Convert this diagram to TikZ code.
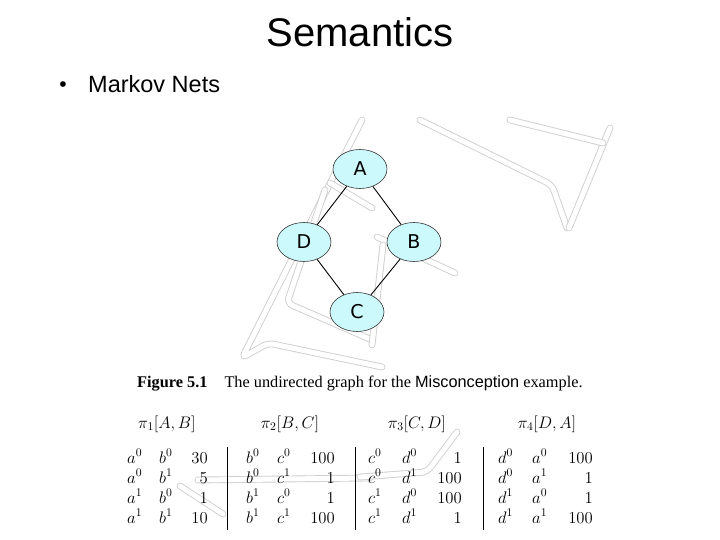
\RequirePackage{fix-cm}
\documentclass[tikz,border=0pt]{standalone}
\usepackage{fontspec}
\usetikzlibrary{shapes.geometric}
\newfontfamily\arialfont{Liberation Sans}
\newfontfamily\timesfont{Liberation Serif}
\newfontfamily\handfont{DejaVu Sans}
\definecolor{nodefill}{HTML}{CCFAFC}
\definecolor{wmgray}{HTML}{CFCFCF}
\newcommand\trow[8]{%
  \node[cell, anchor=base west] (#1a) at (#3,#2) {$#6$};
  \node[cell, anchor=base west] (#1b) at (#4,#2) {$#7$};
  \node[cell, anchor=base east] (#1c) at (#5,#2) {$#8$};}
\begin{document}
\begin{tikzpicture}[x=1pt,y=-1pt,
  wm/.style={draw=wmgray, line width=0.9pt, double=white, double distance=5pt, rounded corners=6pt, line cap=round},
  var/.style={ellipse, draw=black!80, line width=0.6pt, fill=nodefill, minimum width=54pt, minimum height=39pt, inner sep=0pt, font=\handfont\fontsize{19}{22}\selectfont},
  edge/.style={draw=black, line width=0.9pt},
  cell/.style={inner sep=0pt, font=\fontsize{16.7}{20}\selectfont},
  sep/.style={draw=black, line width=1pt}]
\useasboundingbox (0,0) rectangle (720,540);
\fill[white] (0,0) rectangle (720,540);
% watermark (faint background)
\draw[wm] (362,120) -- (242,358) -- (268,343) -- (382,367);
\draw[wm] (330,183) -- (372,208);
\draw[wm] (325,190) -- (287,303) -- (372,340);
\draw[wm] (420,120) -- (552,185) -- (567,228);
\draw[wm] (610,128) -- (569,228);
\draw[wm] (510,120) -- (603,143);
\draw[wm] (377,237) -- (455,273);
\draw[wm] (383,245) -- (372,345);
\draw[wm] (180,486) -- (223,514);
\draw[wm] (198,480) -- (370,478);
\draw[wm] (360,477) -- (427,472) -- (457,432);
% title
\node[font=\arialfont\fontsize{40}{48}\selectfont, anchor=base, inner sep=0pt] (title) at (360,47) {Semantics};
\node[font=\arialfont\fontsize{21}{24}\selectfont, anchor=base, inner sep=0pt] (bullet) at (63,92) {•};
\node[font=\arialfont\fontsize{23.5}{28}\selectfont, anchor=base west, inner sep=0pt] (item) at (88,93) {Markov Nets};
% graph
\node[var] (A) at (360,169) {A};
\node[var] (D) at (304,242) {D};
\node[var] (B) at (414,242) {B};
\node[var] (C) at (357,312) {C};
\draw[edge] (A) -- (D);
\draw[edge] (A) -- (B);
\draw[edge] (D) -- (C);
\draw[edge] (B) -- (C);
% caption
\node[font=\timesfont\fontsize{16.3}{19}\selectfont, anchor=base west, inner sep=0pt] (cap) at (137,387)
  {\textbf{Figure 5.1}\hspace{17pt}The undirected graph for the {\arialfont Misconception} example.};
% table headers
\node[cell, anchor=base] (h1) at (167,428) {$\pi_1[A,B]$};
\node[cell, anchor=base] (h2) at (290,428) {$\pi_2[B,C]$};
\node[cell, anchor=base] (h3) at (417,428) {$\pi_3[C,D]$};
\node[cell, anchor=base] (h4) at (547,428) {$\pi_4[D,A]$};
% table 1
\trow{p11}{463}{127}{159}{208}{a^0}{b^0}{30}
\trow{p12}{483}{127}{159}{208}{a^0}{b^1}{5}
\trow{p13}{503}{127}{159}{208}{a^1}{b^0}{1}
\trow{p14}{523}{127}{159}{208}{a^1}{b^1}{10}
% table 2
\trow{p21}{463}{246}{277}{335}{b^0}{c^0}{100}
\trow{p22}{483}{246}{277}{335}{b^0}{c^1}{1}
\trow{p23}{503}{246}{277}{335}{b^1}{c^0}{1}
\trow{p24}{523}{246}{277}{335}{b^1}{c^1}{100}
% table 3
\trow{p31}{463}{368}{402}{462}{c^0}{d^0}{1}
\trow{p32}{483}{368}{402}{462}{c^0}{d^1}{100}
\trow{p33}{503}{368}{402}{462}{c^1}{d^0}{100}
\trow{p34}{523}{368}{402}{462}{c^1}{d^1}{1}
% table 4
\trow{p41}{463}{498}{532}{593}{d^0}{a^0}{100}
\trow{p42}{483}{498}{532}{593}{d^0}{a^1}{1}
\trow{p43}{503}{498}{532}{593}{d^1}{a^0}{1}
\trow{p44}{523}{498}{532}{593}{d^1}{a^1}{100}
% separators
\coordinate (s1t) at (227,447); \coordinate (s1b) at (227,530);
\coordinate (s2t) at (355,447); \coordinate (s2b) at (355,530);
\coordinate (s3t) at (483,447); \coordinate (s3b) at (483,530);
\draw[sep] (s1t) -- (s1b);
\draw[sep] (s2t) -- (s2b);
\draw[sep] (s3t) -- (s3b);
\end{tikzpicture}
\end{document}
